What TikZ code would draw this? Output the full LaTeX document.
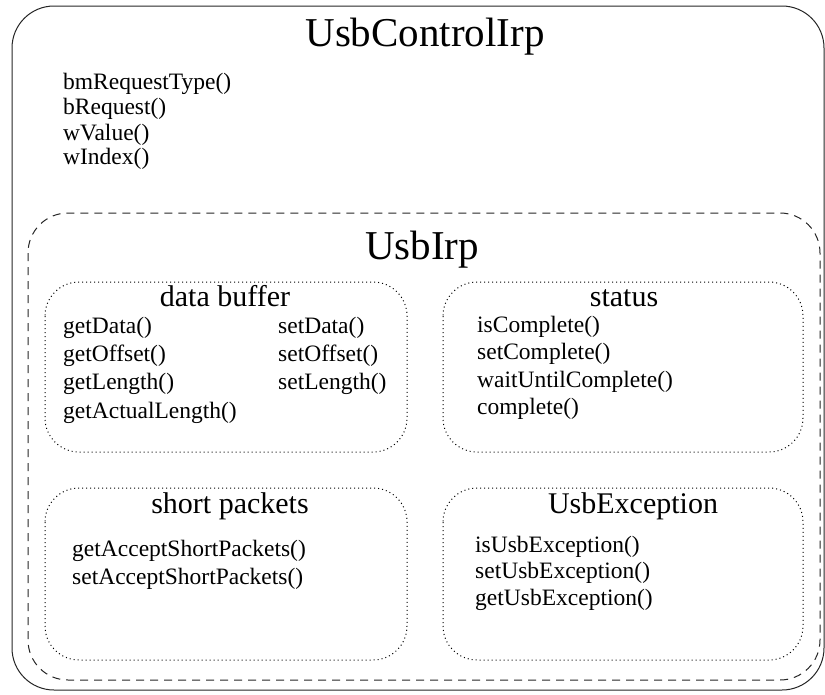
\documentclass[tikz,border=0pt]{standalone}
\usepackage{fontspec}
\setmainfont{Liberation Serif}
\begin{document}
\begin{tikzpicture}[x=1pt,y=-1pt,
  outerbox/.style={draw=black!85,line width=1pt,rounded corners=42pt},
  dashbox/.style={draw=black!85,line width=1pt,dash pattern=on 8pt off 6pt,rounded corners=40pt},
  dotbox/.style={draw=black,line width=1pt,dash pattern=on 1pt off 3pt,rounded corners=34pt},
  bigtitle/.style={anchor=base,font=\fontsize{41}{48}\selectfont},
  subtitle/.style={anchor=base,font=\fontsize{30}{36}\selectfont},
  method/.style={anchor=base west,inner sep=0pt,font=\fontsize{23.5}{28}\selectfont}]
\useasboundingbox (0,0) rectangle (825,694);
% boxes
\draw[outerbox] (12,6) rectangle (824,690);
\draw[dashbox] (28,213) rectangle (820,680);
\draw[dotbox] (45,282) rectangle (407,452);
\draw[dotbox] (443,282) rectangle (803,452);
\draw[dotbox] (45,488) rectangle (407,660);
\draw[dotbox] (443,488) rectangle (803,660);
% titles
\node[bigtitle] (tctl) at (425,46) {UsbControlIrp};
\node[bigtitle] (tirp) at (422,259) {UsbIrp};
\node[subtitle] (tdb) at (225,306) {data buffer};
\node[subtitle] (tst) at (624,306) {status};
\node[subtitle] (tsp) at (230,513) {short packets};
\node[subtitle] (tue) at (633,513) {UsbException};
% control methods
\node[method] (c1) at (63,89) {bmRequestType()};
\node[method] (c2) at (63,114) {bRequest()};
\node[method] (c3) at (63,140) {wValue()};
\node[method] (c4) at (63,164) {wIndex()};
% data buffer
\node[method] (d1) at (63,333) {getData()};
\node[method] (d2) at (63,361) {getOffset()};
\node[method] (d3) at (63,389) {getLength()};
\node[method] (d4) at (63,418) {getActualLength()};
\node[method] (d5) at (278,333) {setData()};
\node[method] (d6) at (278,361) {setOffset()};
\node[method] (d7) at (278,389) {setLength()};
% status
\node[method] (s1) at (477,332) {isComplete()};
\node[method] (s2) at (477,359) {setComplete()};
\node[method] (s3) at (477,387) {waitUntilComplete()};
\node[method] (s4) at (477,414) {complete()};
% short packets
\node[method] (p1) at (72,556) {getAcceptShortPackets()};
\node[method] (p2) at (72,584) {setAcceptShortPackets()};
% exception
\node[method] (e1) at (475,552) {isUsbException()};
\node[method] (e2) at (475,578) {setUsbException()};
\node[method] (e3) at (475,605) {getUsbException()};
\end{tikzpicture}
\end{document}
